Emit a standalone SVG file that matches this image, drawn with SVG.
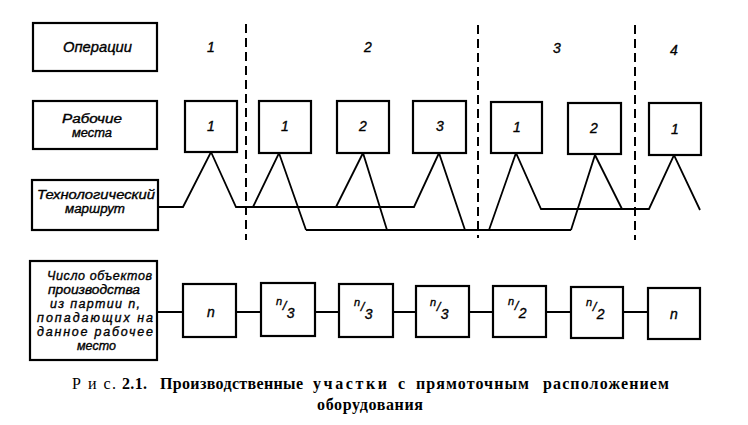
<svg xmlns="http://www.w3.org/2000/svg" width="748" height="425" viewBox="0 0 748 425">
<style>
.bx{fill:#fff;stroke:#000;stroke-width:2.2}
.ln{fill:none;stroke:#000;stroke-width:1.8;stroke-linejoin:miter}
.dash{fill:none;stroke:#000;stroke-width:2;stroke-dasharray:9,5}
.t{font-family:"Liberation Sans",Arial,sans-serif;font-style:italic;font-size:14px;fill:#000;stroke:#000;stroke-width:0.35}
.s{font-size:12.5px}
.c{text-anchor:middle}
.cap{font-family:"Liberation Serif","Times New Roman",serif;font-weight:bold;font-size:16px;fill:#000}
.capn{font-family:"Liberation Serif","Times New Roman",serif;font-size:16px;fill:#000}
</style>
<rect width="748" height="425" fill="#fff"/>
<g id="dividers">
<line class="dash" x1="246" y1="24" x2="246" y2="240"/>
<line class="dash" x1="478" y1="25" x2="478" y2="238"/>
<line class="dash" x1="635" y1="25" x2="635" y2="240"/>
</g>
<g id="connectors">
<path class="ln" d="M158,207 L183,207 L211,152 L236,207 L414,207 L439,153 L465,230"/>
<path class="ln" d="M253,207 L279,153 L306,230"/>
<path class="ln" d="M336,207 L363,153 L387,230"/>
<path class="ln" d="M306,230 L571,230"/>
<path class="ln" d="M489,230 L516,153 L541,209 L649,209 L674,155 L700,210"/>
<path class="ln" d="M571,230 L595,155 L622,209"/>
<path class="ln" d="M157,312 H183 M236,312 H261 M315,312 H339 M393,312 H416 M469,312 H493 M546,312 H571 M623,312 H648"/>
</g>
<g id="label-operations">
<rect class="bx" x="33" y="23" width="124" height="48"/>
<text class="t" x="63" y="52" textLength="69" lengthAdjust="spacingAndGlyphs">Операции</text>
</g>
<g id="label-workplaces">
<rect class="bx" x="33" y="101" width="124" height="48"/>
<text class="t s" x="62" y="123" textLength="60" lengthAdjust="spacingAndGlyphs">Рабочие</text>
<text class="t s" x="72" y="137" textLength="40" lengthAdjust="spacingAndGlyphs">места</text>
</g>
<g id="label-route">
<rect class="bx" x="32" y="180" width="126" height="50"/>
<text class="t s" x="37" y="199" textLength="118" lengthAdjust="spacingAndGlyphs">Технологический</text>
<text class="t s" x="65" y="213" textLength="60" lengthAdjust="spacingAndGlyphs">маршрут</text>
</g>
<g id="label-count">
<rect class="bx" x="30" y="261" width="127" height="99"/>
<text class="t s" x="47" y="280" textLength="105" lengthAdjust="spacing">Число объектов</text>
<text class="t s" x="48" y="294" textLength="92" lengthAdjust="spacingAndGlyphs">производства</text>
<text class="t s" x="50" y="308" textLength="90" lengthAdjust="spacing">из партии n,</text>
<text class="t s" x="37" y="322" textLength="116" lengthAdjust="spacing">попадающих на</text>
<text class="t s" x="37" y="336" textLength="116" lengthAdjust="spacing">данное рабочее</text>
<text class="t s" x="77" y="350">место</text>
</g>
<g id="op-numbers">
<text class="t c" x="211" y="52">1</text>
<text class="t c" x="368" y="52">2</text>
<text class="t c" x="557" y="53">3</text>
<text class="t c" x="674" y="55">4</text>
</g>
<g id="wp-op1-1">
<rect class="bx" x="185" y="101" width="52" height="51"/>
<text class="t c" x="211" y="131">1</text>
</g>
<g id="wp-op2-1">
<rect class="bx" x="259" y="101" width="52" height="52"/>
<text class="t c" x="285" y="131">1</text>
</g>
<g id="wp-op2-2">
<rect class="bx" x="337" y="101" width="52" height="52"/>
<text class="t c" x="363" y="131">2</text>
</g>
<g id="wp-op2-3">
<rect class="bx" x="413" y="101" width="53" height="52"/>
<text class="t c" x="440" y="131">3</text>
</g>
<g id="wp-op3-1">
<rect class="bx" x="491" y="102" width="51" height="51"/>
<text class="t c" x="517" y="132">1</text>
</g>
<g id="wp-op3-2">
<rect class="bx" x="568" y="103" width="53" height="51"/>
<text class="t c" x="594" y="133">2</text>
</g>
<g id="wp-op4-1">
<rect class="bx" x="649" y="103" width="52" height="52"/>
<text class="t c" x="675" y="134">1</text>
</g>
<g id="cnt-1">
<rect class="bx" x="183" y="284" width="53" height="53"/>
<text class="t c" x="211" y="317">n</text>
</g>
<g id="cnt-2">
<rect class="bx" x="261" y="283" width="54" height="53"/>
<text class="t" x="276" y="305"><tspan font-size="11">n</tspan><tspan font-size="13" dy="5" dx="0.5">/</tspan><tspan dy="8" dx="0.5">3</tspan></text>
</g>
<g id="cnt-3">
<rect class="bx" x="339" y="284" width="54" height="53"/>
<text class="t" x="354" y="306"><tspan font-size="11">n</tspan><tspan font-size="13" dy="5" dx="0.5">/</tspan><tspan dy="8" dx="0.5">3</tspan></text>
</g>
<g id="cnt-4">
<rect class="bx" x="416" y="286" width="53" height="51"/>
<text class="t" x="430" y="306"><tspan font-size="11">n</tspan><tspan font-size="13" dy="5" dx="0.5">/</tspan><tspan dy="8" dx="0.5">3</tspan></text>
</g>
<g id="cnt-5">
<rect class="bx" x="493" y="286" width="53" height="51"/>
<text class="t" x="508" y="305"><tspan font-size="11">n</tspan><tspan font-size="13" dy="5" dx="0.5">/</tspan><tspan dy="8" dx="0.5">2</tspan></text>
</g>
<g id="cnt-6">
<rect class="bx" x="571" y="287" width="52" height="51"/>
<text class="t" x="586" y="306"><tspan font-size="11">n</tspan><tspan font-size="13" dy="5" dx="0.5">/</tspan><tspan dy="8" dx="0.5">2</tspan></text>
</g>
<g id="cnt-7">
<rect class="bx" x="648" y="288" width="52" height="51"/>
<text class="t c" x="674" y="319">n</text>
</g>
<g id="caption">
<text class="capn" x="72" y="389" textLength="44" lengthAdjust="spacing">Р и с.</text>
<text class="cap" x="122" y="389" textLength="25" lengthAdjust="spacing">2.1.</text>
<text class="cap" x="160" y="389" textLength="143" lengthAdjust="spacing">Производственные</text>
<text class="cap" x="313" y="389" textLength="74" lengthAdjust="spacing">участки</text>
<text class="cap" x="398" y="389">с</text>
<text class="cap" x="416" y="389" textLength="113" lengthAdjust="spacing">прямоточным</text>
<text class="cap" x="543" y="389" textLength="126" lengthAdjust="spacing">расположением</text>
<text class="cap" x="317" y="410" textLength="106" lengthAdjust="spacing">оборудования</text>
</g>
</svg>
